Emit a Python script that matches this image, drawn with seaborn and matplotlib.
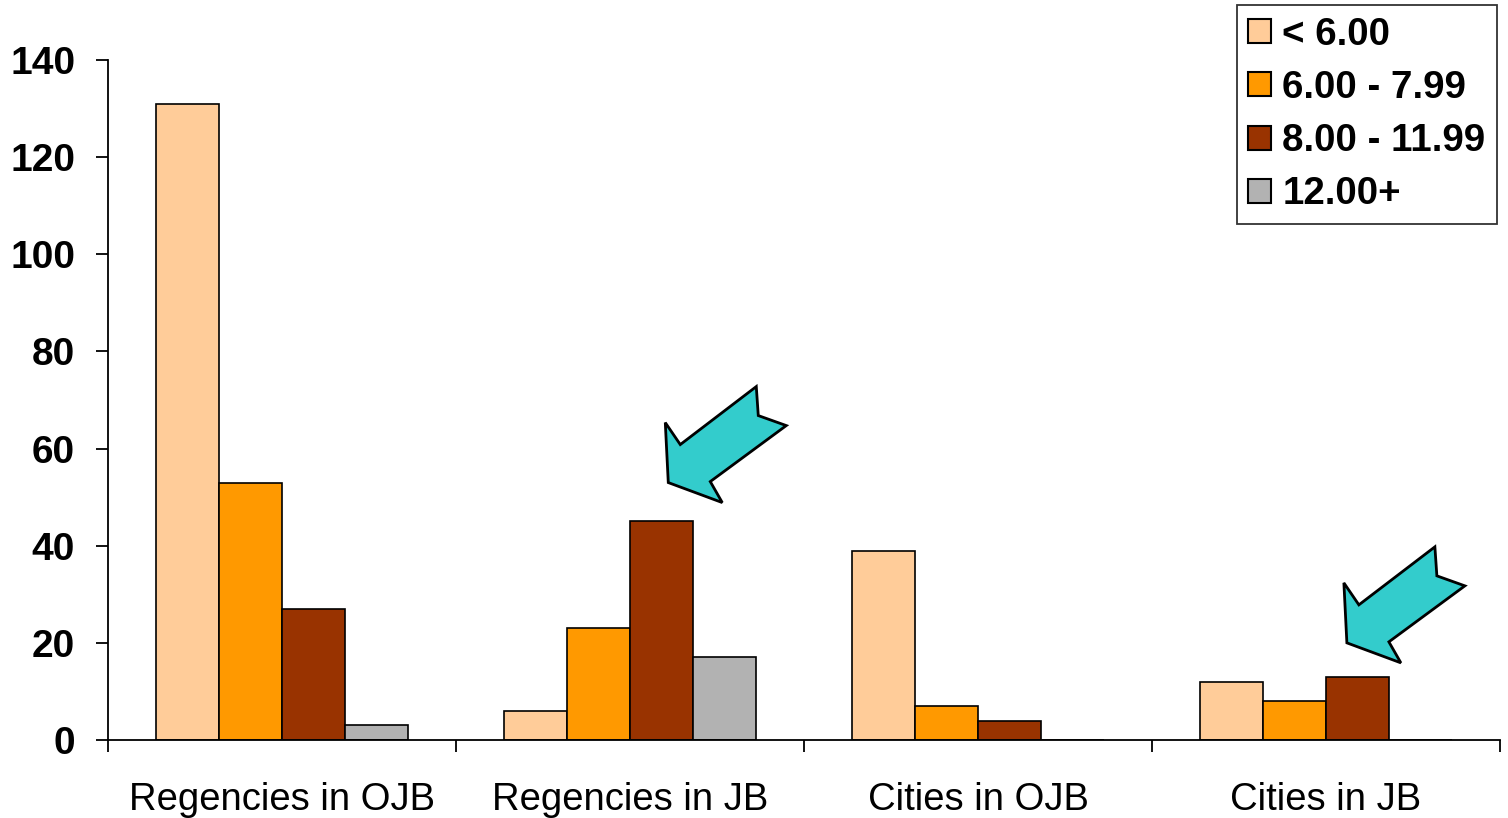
import pandas as pd
import matplotlib
matplotlib.use("Agg")
import matplotlib.pyplot as plt
import seaborn as sns
from matplotlib.patches import Polygon, Patch
from matplotlib.transforms import IdentityTransform

groups = ["Regencies in OJB", "Regencies in JB", "Cities in OJB", "Cities in JB"]
classes = ["< 6.00", "6.00 - 7.99", "8.00 - 11.99", "12.00+"]
below_6 = [131, 6, 39, 12]
from_6_to_8 = [53, 23, 7, 8]
from_8_to_12 = [27, 45, 4, 13]
above_12 = [3, 17, 0, 0]
colors = ["#FFCC99", "#FF9900", "#993300", "#B2B2B2"]

# arrow tips (category position, value) and arrow outline in pixels relative to the tip
arrow_tips = [(1.11, 53), (3.06, 20)]
arrow_shape = [(0, 0), (-3, 60), (12, 38), (88, 96), (90, 67), (118, 57), (42, 1), (54, -20)]

df = pd.DataFrame({
    "group": groups * 4,
    "cls": [c for c in classes for _ in groups],
    "value": below_6 + from_6_to_8 + from_8_to_12 + above_12,
})

sns.set_style("white")
plt.rcParams["font.family"] = ["Liberation Sans", "DejaVu Sans"]
plt.rcParams["text.color"] = "black"

fig = plt.figure(figsize=(15.08, 8.18), dpi=100)
ax = fig.add_axes([108 / 1508, 78 / 818, (1500 - 108) / 1508, (740 - 60) / 818])

sns.barplot(data=df, x="group", y="value", hue="cls", hue_order=classes, order=groups,
            palette=colors, width=0.727, gap=0, edgecolor="black", linewidth=1.2,
            saturation=1, errorbar=None, ax=ax)

ax.set_xlim(-0.5, 3.5)
ax.set_ylim(0, 140)
ax.set_yticks(range(0, 141, 20))
ax.set_xlabel("")
ax.set_ylabel("")
for side in ["top", "right"]:
    ax.spines[side].set_visible(False)
for side in ["left", "bottom"]:
    ax.spines[side].set_color("black")
    ax.spines[side].set_linewidth(1.3)

ax.tick_params(axis="y", left=True, length=8.6, width=1.3, color="black",
               labelcolor="black", labelsize=28, pad=15)
for lab in ax.get_yticklabels():
    lab.set_fontweight("bold")
ax.set_xticks([-0.5, 0.5, 1.5, 2.5, 3.5], minor=True)
ax.tick_params(axis="x", which="minor", bottom=True, length=8.6, width=1.3, color="black")
ax.tick_params(axis="x", which="major", bottom=False, length=0, labelcolor="black",
               labelsize=27.5, pad=30)

handles = [Patch(facecolor=c, edgecolor="black", linewidth=1.5) for c in colors]
leg = ax.legend(handles, classes, loc="upper right", bbox_to_anchor=(1497 / 1508, 1 - 5 / 818),
                bbox_transform=fig.transFigure, borderaxespad=0, frameon=True, fancybox=False,
                prop={"size": 27.7, "weight": "bold"}, handlelength=0.59, handleheight=0.59,
                handletextpad=0.3, labelspacing=0.45, borderpad=0.3)
leg.get_frame().set_edgecolor("black")
leg.get_frame().set_linewidth(1.3)
for t in leg.get_texts():
    t.set_color("black")

fig.canvas.draw()
for tx, ty in arrow_tips:
    px, py = ax.transData.transform((tx, ty))
    pts = [(px + dx, py + dy) for dx, dy in arrow_shape]
    fig.add_artist(Polygon(pts, closed=True, facecolor="#33CCCC", edgecolor="black",
                           linewidth=2, transform=IdentityTransform()))

fig.savefig("out.png", dpi=100)
